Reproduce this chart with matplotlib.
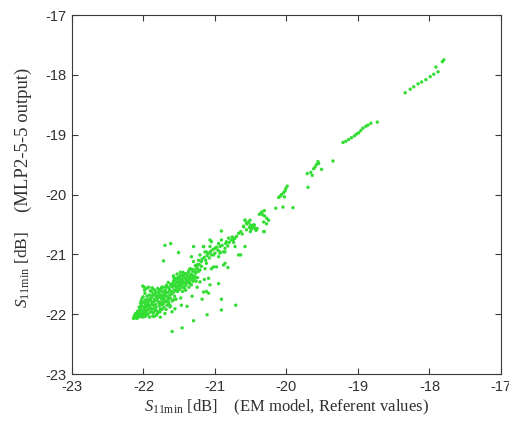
import matplotlib
matplotlib.use("Agg")
import matplotlib.pyplot as plt

# EM model (referent) values vs MLP2-5-5 outputs, S11min [dB]
x_ref = [
    # upper segment near -18
    -17.80, -17.82, -17.91, -17.88, -17.94, -17.99, -18.05, -18.11, -18.16, -18.22, -18.27, -18.34,
    # segment near -19
    -18.73, -18.82, -18.86, -18.89, -18.93, -18.96, -18.99, -19.02, -19.05, -19.09, -19.13, -19.17, -19.21,
    -19.35,
    # cluster near -19.6
    -19.56, -19.58, -19.60, -19.62, -19.51, -19.66, -19.71, -19.64, -19.70, -19.55,
    # cluster near -20
    -19.99, -20.01, -20.02, -20.04, -20.07, -20.09, -20.11, -20.03, -20.15, -20.05, -19.91,
    # cluster near -20.3
    -20.31, -20.36, -20.33, -20.38, -20.25, -20.32, -20.28,
    # region near -20.5
    -20.58, -20.56, -20.60, -20.52, -20.49, -20.44, -20.45, -20.58, -20.51, -20.50, -20.46, -20.41, -20.55,
    # outliers -21.2 .. -20.6
    -20.91, -20.74, -20.64, -20.82, -20.91, -20.71, -20.91, -20.93, -20.86, -21.16, -21.12, -21.05,
    -21.30, -21.07, -21.15, -21.07, -21.18, -21.11, -21.02, -21.12,
    # region -21.6 .. -21.3
    -21.59, -21.58, -21.57, -21.56, -21.56, -21.55, -21.54, -21.53, -21.52, -21.51, -21.50, -21.50, -21.49,
    -21.48, -21.47, -21.47, -21.46, -21.45, -21.44, -21.43, -21.42, -21.41, -21.40, -21.39, -21.38, -21.37,
    -21.36, -21.35, -21.34, -21.33, -21.32, -21.31, -21.30, -21.53, -21.45, -21.58,
    -21.48, -21.58, -21.41, -21.39, -21.60, -21.67, -21.32, -21.30, -21.46, -21.60, -21.25,
    -21.70, -21.62, -21.51, -21.72,
    # region -21.9 .. -21.6
    -21.88, -21.87, -21.86, -21.85, -21.85, -21.84, -21.83, -21.82, -21.81, -21.80, -21.80, -21.79, -21.78,
    -21.77, -21.76, -21.75, -21.75, -21.74, -21.73, -21.72, -21.71, -21.70, -21.69, -21.68, -21.67, -21.66,
    -21.65, -21.64, -21.63, -21.62, -21.61, -21.60, -21.84, -21.78, -21.73, -21.86, -21.82, -21.70, -21.63,
    -21.77, -21.68, -21.80, -21.72, -21.66,
    # region -22.15 .. -21.9
    -22.14, -22.12, -22.10, -22.09, -22.08, -22.07, -22.06, -22.05, -22.04, -22.03, -22.02, -22.01, -22.00,
    -22.00, -21.99, -21.98, -21.97, -21.97, -21.96, -21.95, -21.94, -21.94, -21.93, -21.92, -21.91, -21.90,
    -21.90, -21.99, -22.01, -21.96, -21.93, -21.88, -21.98, -21.95, -22.02, -22.04, -21.97, -22.06, -21.92,
    -21.89, -22.00, -21.96, -22.08, -22.03, -21.91, -21.89, -21.88, -21.87,
]

y_mlp = [
    # upper segment near -18
    -17.75, -17.78, -17.87, -17.95, -17.99, -18.03, -18.08, -18.12, -18.15, -18.20, -18.24, -18.30,
    # segment near -19
    -18.79, -18.81, -18.84, -18.86, -18.89, -18.93, -18.97, -18.99, -19.02, -19.05, -19.08, -19.11, -19.13,
    -19.44,
    # cluster near -19.6
    -19.45, -19.50, -19.54, -19.57, -19.58, -19.63, -19.65, -19.68, -19.88, -19.48,
    # cluster near -20
    -19.86, -19.90, -19.94, -19.97, -20.00, -20.03, -20.05, -20.04, -20.23, -20.21, -20.22,
    # cluster near -20.3
    -20.27, -20.32, -20.34, -20.33, -20.43, -20.62, -20.49,
    # region near -20.5
    -20.43, -20.48, -20.53, -20.55, -20.58, -20.57, -20.51, -20.87, -20.43, -20.51, -20.54, -20.57, -20.49,
    # outliers -21.2 .. -20.6
    -20.61, -20.75, -21.01, -21.22, -21.75, -21.85, -21.93, -20.96, -20.96, -20.87, -20.96, -21.01,
    -20.87, -20.76, -21.42, -21.51, -21.75, -22.01, -21.21, -21.62,
    # region -21.6 .. -21.3
    -21.55, -21.45, -21.60, -21.50, -21.91, -21.40, -21.56, -21.47, -21.62, -21.38, -21.52, -21.44, -21.58,
    -21.35, -21.48, -21.85, -21.42, -21.55, -21.38, -21.47, -21.32, -21.52, -21.42, -21.36, -21.48, -21.30,
    -21.44, -21.38, -21.50, -21.33, -21.42, -21.28, -21.38, -21.33, -21.30, -21.36,
    -21.73, -21.76, -21.60, -21.87, -21.96, -21.79, -21.70, -22.11, -22.23, -22.29, -21.55,
    -20.85, -20.82, -20.97, -21.11,
    # region -21.9 .. -21.6
    -21.70, -21.80, -21.66, -21.90, -21.75, -21.60, -21.84, -21.70, -21.95, -21.78, -21.63, -21.72, -21.86,
    -21.67, -21.80, -21.58, -21.74, -21.92, -21.69, -21.82, -21.62, -21.76, -21.55, -21.70, -21.85, -21.64,
    -21.75, -21.58, -21.68, -21.50, -21.62, -21.78, -21.68, -21.62, -21.55, -21.98, -22.02, -21.99, -21.88,
    -21.96, -21.52, -21.57, -21.72, -21.79,
    # region -22.15 .. -21.9
    -22.07, -22.06, -22.05, -22.02, -22.06, -22.00, -22.04, -21.97, -22.03, -21.93, -22.00, -21.95, -21.88,
    -22.02, -21.98, -21.91, -21.84, -22.00, -21.95, -21.88, -21.80, -22.01, -21.92, -21.86, -21.97, -21.78,
    -21.90, -21.55, -21.53, -21.57, -21.55, -21.56, -21.65, -21.70, -21.74, -21.82, -21.76, -21.88, -21.68,
    -21.62, -21.80, -21.83, -21.95, -21.86, -21.74, -21.84, -21.96, -22.03,
]

# further samples inside the dense lower band, read as (EM value, MLP value)
band_points = [
    (-22.13, -22.04), (-22.11, -21.99), (-22.095, -22.07), (-22.085, -21.96), (-22.065, -22.02),
    (-22.055, -21.93), (-22.125, -22.02), (-22.105, -22.04),
    (-22.045, -21.90), (-22.035, -21.99), (-22.025, -21.84), (-22.015, -22.05), (-21.995, -21.93),
    (-21.985, -21.79), (-21.975, -22.04), (-21.965, -21.87), (-21.955, -21.99), (-22.005, -21.71),
    (-21.985, -21.60), (-21.945, -21.76), (-22.035, -21.78), (-21.915, -22.05), (-21.935, -21.83),
    (-21.895, -21.73), (-21.885, -21.92), (-21.875, -21.68), (-21.865, -21.85), (-21.855, -22.04),
    (-21.845, -21.78), (-21.835, -21.64), (-21.825, -21.89), (-21.815, -21.74), (-21.805, -21.99),
    (-21.905, -21.61), (-21.865, -21.58), (-21.835, -21.94),
    (-21.795, -21.68), (-21.785, -21.81), (-21.775, -21.59), (-21.765, -21.91), (-21.755, -21.70),
    (-21.745, -21.84), (-21.735, -21.63), (-21.725, -21.77), (-21.715, -21.88), (-21.705, -21.67),
    (-21.785, -21.96), (-21.745, -21.55), (-21.765, -22.05),
    (-21.695, -21.60), (-21.685, -21.79), (-21.675, -21.64), (-21.665, -21.71), (-21.655, -21.55),
    (-21.645, -21.82), (-21.635, -21.61), (-21.625, -21.73), (-21.615, -21.53), (-21.605, -21.66),
    (-21.685, -21.92), (-21.655, -21.47), (-21.625, -21.86),
    (-21.595, -21.49), (-21.585, -21.64), (-21.575, -21.52), (-21.565, -21.70), (-21.555, -21.44),
    (-21.545, -21.61), (-21.535, -21.53), (-21.525, -21.41), (-21.515, -21.57), (-21.505, -21.48),
    (-21.575, -21.40), (-21.545, -21.75),
    (-21.495, -21.40), (-21.485, -21.53), (-21.475, -21.44), (-21.465, -21.36), (-21.455, -21.50),
    (-21.445, -21.45), (-21.435, -21.34), (-21.425, -21.57), (-21.415, -21.40), (-21.405, -21.47),
    (-21.455, -21.62), (-21.485, -21.30),
    (-21.395, -21.33), (-21.385, -21.44), (-21.375, -21.38), (-21.365, -21.27), (-21.355, -21.47),
    (-21.345, -21.35), (-21.335, -21.41), (-21.325, -21.25), (-21.315, -21.36), (-21.305, -21.45),
    (-21.365, -21.55),
    (-21.295, -21.26), (-21.285, -21.36), (-21.275, -21.19), (-21.265, -21.31), (-21.255, -21.24),
    (-21.245, -21.39), (-21.235, -21.17), (-21.225, -21.28), (-21.265, -21.45),
    (-20.535, -20.47), (-20.475, -20.54), (-20.425, -20.60), (-20.505, -20.62),
    (-20.345, -20.29), (-20.305, -20.36), (-20.275, -20.40),
]

# samples of the wider middle part of the cloud (-21.4 .. -20.3)
mid_points = [
    (-20.58, -20.43), (-20.53, -20.46), (-20.46, -20.51), (-20.42, -20.57), (-20.31, -20.62),
    (-20.32, -20.46), (-20.60, -20.54), (-20.56, -20.59), (-20.67, -20.65), (-20.72, -20.73),
    (-20.77, -20.76), (-20.81, -20.73), (-20.84, -20.79), (-20.91, -20.76), (-20.95, -20.82),
    (-20.93, -20.87), (-21.05, -20.79), (-21.07, -20.87), (-21.00, -20.90), (-20.86, -20.90),
    (-20.88, -20.96), (-21.16, -20.87), (-21.14, -20.96), (-21.09, -20.98), (-21.02, -21.01),
    (-20.95, -21.04), (-21.21, -21.01), (-21.23, -21.10), (-21.19, -21.12), (-21.12, -21.15),
    (-21.26, -21.18), (-21.33, -21.04), (-21.30, -21.12), (-21.35, -21.24), (-21.21, -21.26),
    (-21.14, -21.24), (-21.05, -21.24), (-20.98, -21.21), (-20.88, -21.18), (-20.86, -21.15),
    (-20.72, -20.87), (-20.67, -21.01), (-21.37, -21.38), (-21.28, -21.40), (-21.21, -21.46),
    (-21.09, -21.40), (-20.95, -21.49), (-21.16, -21.63), (-21.09, -21.65), (-21.33, -21.51),
    (-21.25, -21.22), (-21.22, -21.17), (-21.18, -21.08), (-21.15, -21.05), (-21.11, -21.02),
    (-21.06, -20.95), (-21.03, -20.92), (-20.98, -20.88), (-20.96, -20.93), (-20.90, -20.85),
    (-20.85, -20.82), (-20.80, -20.80), (-20.76, -20.71), (-20.70, -20.70), (-20.64, -20.62),
    (-20.62, -20.66), (-21.28, -21.30), (-21.24, -21.28), (-21.19, -21.20), (-21.13, -21.10),
    (-21.08, -21.06), (-21.00, -20.98), (-20.93, -20.98), (-20.82, -20.86), (-20.74, -20.80),
]

ticks = [-23, -22, -21, -20, -19, -18, -17]
tick_labels = ["-23", "-22", "-21", "-20", "-19", "-18", "-17"]

plt.rcParams["mathtext.fontset"] = "custom"
plt.rcParams["mathtext.rm"] = "Liberation Serif"
plt.rcParams["mathtext.it"] = "Liberation Serif:italic"

fig = plt.figure(figsize=(5.09, 4.28), dpi=100)
ax = fig.add_axes([72 / 509, 1 - 374 / 428, (501 - 72) / 509, (374 - 15) / 428])

pt_color = "#33dd33"
ax.scatter(x_ref, y_mlp, s=6, color=pt_color, edgecolors="none", zorder=3)
for pts in (band_points, mid_points):
    ax.scatter([p[0] for p in pts], [p[1] for p in pts],
               s=6, color=pt_color, edgecolors="none", zorder=3)

ax.set_xlim(-23, -17)
ax.set_ylim(-23, -17)
ax.set_xticks(ticks)
ax.set_xticklabels(tick_labels)
ax.set_yticks(ticks)
ax.set_yticklabels(tick_labels)

dark = "#3a3a3a"
for sp in ax.spines.values():
    sp.set_color(dark)
    sp.set_linewidth(0.8)
ax.tick_params(direction="in", length=4, width=0.8, colors=dark, labelsize=10.5,
               top=True, right=True, pad=4)
for lab in ax.get_xticklabels() + ax.get_yticklabels():
    lab.set_family("Liberation Sans")
    lab.set_color("#303030")

ax.set_xlabel(r"$S_{\mathrm{11min}}$ [dB]    (EM model, Referent values)",
              family="Liberation Serif", fontsize=12, color="#303030", labelpad=3)

# y label in two parts, placed as in the reference
fig.text(23 / 509, 1 - 269.5 / 428, r"$S_{\mathrm{11min}}$ [dB]", rotation=90,
         ha="center", va="center", family="Liberation Serif", fontsize=12.5, color="#303030")
fig.text(23 / 509, 1 - 140 / 428, "(MLP2-5-5 output)", rotation=90,
         ha="center", va="center", family="Liberation Serif", fontsize=13.5, color="#303030")

fig.savefig("out.png", dpi=100)
